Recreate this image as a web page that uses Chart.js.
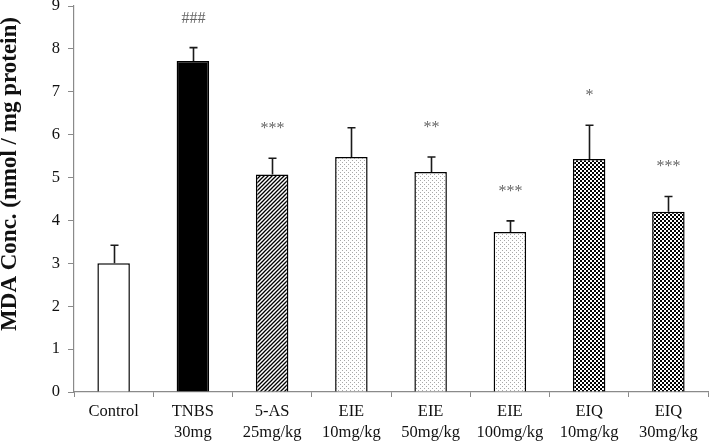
<!DOCTYPE html>
<html>
<head>
<meta charset="utf-8">
<script src="https://cdn.jsdelivr.net/npm/chart.js@4"></script>
<style>
html,body{margin:0;padding:0;background:#fff;}
#wrap{width:710px;height:445px;}
</style>
</head>
<body>
<div id="wrap"><canvas id="c" width="710" height="445"></canvas></div>
<script>
const categories = ["Control", ["TNBS","30mg"], ["5-AS","25mg/kg"], ["EIE","10mg/kg"], ["EIE","50mg/kg"], ["EIE","100mg/kg"], ["EIQ","10mg/kg"], ["EIQ","30mg/kg"]];
const means = [3.0, 7.72, 5.07, 5.48, 5.13, 3.73, 5.43, 4.2];
const errors = [0.42, 0.31, 0.38, 0.68, 0.35, 0.26, 0.79, 0.36];
const marks = ["", "###", "***", "", "**", "***", "*", "***"];
const fillKinds = ["white", "black", "hatch", "dots", "dots", "dots", "checker", "checker"];
const yMin = 0, yMax = 9, yStep = 1;
const yTitle = "MDA Conc. (nmol / mg protein)";

function makePattern(kind){
  if (kind === "white") return "#ffffff";
  if (kind === "black") return "#000000";
  const pc = document.createElement("canvas");
  const ctx = pc.getContext("2d");
  if (kind === "hatch"){
    pc.width = 4; pc.height = 4;
    ctx.fillStyle = "#fff"; ctx.fillRect(0,0,4,4);
    ctx.strokeStyle = "#000"; ctx.lineWidth = 1.3;
    ctx.beginPath();
    ctx.moveTo(-1,5); ctx.lineTo(5,-1);
    ctx.moveTo(-1,1); ctx.lineTo(1,-1);
    ctx.moveTo(3,5); ctx.lineTo(5,3);
    ctx.stroke();
  } else if (kind === "dots"){
    pc.width = 4; pc.height = 4;
    ctx.fillStyle = "#fff"; ctx.fillRect(0,0,4,4);
    ctx.fillStyle = "#a8a8a8";
    ctx.fillRect(0,0,1,1); ctx.fillRect(2,2,1,1);
  } else if (kind === "checker"){
    pc.width = 4; pc.height = 4;
    ctx.fillStyle = "#fff"; ctx.fillRect(0,0,4,4);
    ctx.fillStyle = "#000";
    ctx.fillRect(0,0,2,2); ctx.fillRect(2,2,2,2);
  }
  return ctx.createPattern(pc, "repeat");
}

const errorPlugin = {
  id: "errorBars",
  afterDatasetsDraw(chart){
    const ctx = chart.ctx;
    const meta = chart.getDatasetMeta(0);
    const ys = chart.scales.y;
    ctx.save();
    meta.data.forEach((bar, i) => {
      const x = Math.round(bar.x) + 0.5;
      const top = ys.getPixelForValue(means[i]);
      const cap = ys.getPixelForValue(means[i] + errors[i]);
      ctx.strokeStyle = "#1a1a1a";
      ctx.lineWidth = 1.6;
      ctx.beginPath();
      ctx.moveTo(x, top); ctx.lineTo(x, cap);
      ctx.moveTo(x - 4, cap); ctx.lineTo(x + 4, cap);
      ctx.stroke();
      if (marks[i]){
        ctx.fillStyle = "#666";
        ctx.font = "16px 'Liberation Serif', 'Times New Roman', serif";
        ctx.textAlign = "center";
        ctx.textBaseline = "alphabetic";
        ctx.fillText(marks[i], x, cap - 25);
      }
    });
    ctx.restore();
  }
};

const titlePlugin = {
  id: "yTitleText",
  afterDraw(chart){
    const ctx = chart.ctx;
    ctx.save();
    ctx.translate(10, 174);
    ctx.rotate(-Math.PI/2);
    ctx.font = "bold 23px 'Liberation Serif', 'Times New Roman', serif";
    ctx.fillStyle = "#111";
    ctx.textAlign = "center";
    ctx.textBaseline = "middle";
    ctx.fillText(yTitle, 0, 0);
    ctx.restore();
  }
};

new Chart(document.getElementById("c"), {
  type: "bar",
  data: {
    labels: categories,
    datasets: [{
      data: means,
      backgroundColor: fillKinds.map(makePattern),
      borderColor: "#000",
      borderWidth: 1.5,
      barPercentage: 0.41,
      categoryPercentage: 1.0
    }]
  },
  options: {
    responsive: false,
    animation: false,
    devicePixelRatio: 1,
    layout: { padding: { left: 0, right: 2, top: 6, bottom: 0 } },
    plugins: { legend: { display: false }, tooltip: { enabled: false } },
    scales: {
      x: {
        offset: true,
        grid: { display: true, drawOnChartArea: false, offset: true, tickLength: 5, color: "#8a8a8a", lineWidth: 1 },
        border: { display: true, color: "#8a8a8a", width: 1.2 },
        ticks: { color: "#111", padding: 4, maxRotation: 0, autoSkip: false,
          font: { family: "'Liberation Serif', 'Times New Roman', serif", size: 16.5, lineHeight: 1.28 } },
        afterFit(s){ s.height = 53; s.paddingLeft = 0; s.paddingRight = 0; }
      },
      y: {
        min: yMin, max: yMax,
        grid: { display: true, drawOnChartArea: false, tickLength: 6, color: "#8a8a8a", lineWidth: 1 },
        border: { display: true, color: "#8a8a8a", width: 1.2 },
        ticks: { stepSize: yStep, color: "#111", padding: 8,
          font: { family: "'Liberation Serif', 'Times New Roman', serif", size: 16.5 } },
        afterFit(s){ s.width = 74; s.paddingTop = 0; s.paddingBottom = 0; }
      }
    }
  },
  plugins: [errorPlugin, titlePlugin]
});
</script>
</body>
</html>
